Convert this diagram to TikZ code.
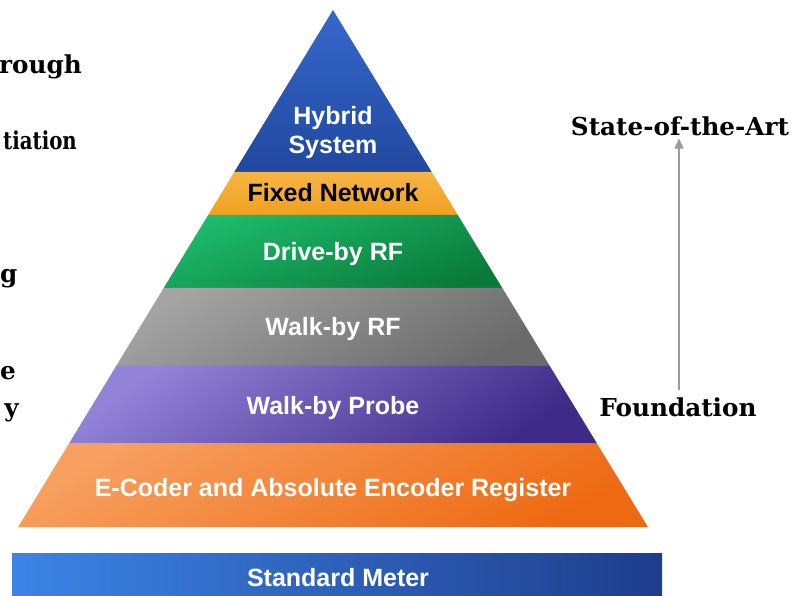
\documentclass[tikz,border=0pt]{standalone}
\usepackage{fontspec}
\setmainfont{DejaVu Serif}
\newfontfamily\lsans{Liberation Sans}
\usetikzlibrary{arrows.meta}
\definecolor{hybTop}{HTML}{3568CC}
\definecolor{hybBot}{HTML}{21489F}
\definecolor{fixTop}{HTML}{F7B545}
\definecolor{fixBot}{HTML}{F0A020}
\definecolor{grnTop}{HTML}{1DBB6C}
\definecolor{grnBot}{HTML}{0A7A3A}
\definecolor{gryTop}{HTML}{A4A4A4}
\definecolor{gryBot}{HTML}{6A6A6A}
\definecolor{purTop}{HTML}{9282D8}
\definecolor{purBot}{HTML}{3E2B88}
\definecolor{orgTop}{HTML}{F7A060}
\definecolor{orgBot}{HTML}{EE6A12}
\definecolor{stdL}{HTML}{3C84E6}
\definecolor{stdR}{HTML}{1E3D8C}
\definecolor{arrowgray}{HTML}{9A9A9A}
\tikzset{
  sidetext/.style={font=\fontsize{24.7}{28}\selectfont\bfseries, inner sep=0pt, anchor=base},
  fragtext/.style={sidetext, anchor=base east},
  bandtext/.style={font=\lsans\bfseries\fontsize{25}{29}\selectfont, text=white, inner sep=0pt, anchor=base},
  band/.style={draw=none},
  uparrow/.style={arrowgray, line width=1.3pt, -{Triangle[length=10pt,width=9pt]}, shorten <=8pt, shorten >=2pt}
}
\begin{document}
\begin{tikzpicture}[x=1pt,y=-1pt]
\useasboundingbox (0,0) rectangle (796,596);
\clip (0,0) rectangle (796,596);
\fill[white] (0,0) rectangle (796,596);

% pyramid bands
\shade[band, top color=hybTop, bottom color=hybBot] (333,10) -- (431.7,172) -- (234.3,172) -- cycle;
\shade[band, top color=fixTop, bottom color=fixBot] (234.3,172) -- (431.7,172) -- (457.8,215) -- (208.2,215) -- cycle;
\shade[band, top color=grnTop, bottom color=grnBot, shading angle=20] (208.2,215) -- (457.8,215) -- (502.3,288) -- (163.7,288) -- cycle;
\shade[band, top color=gryTop, bottom color=gryBot, shading angle=30] (163.7,288) -- (502.3,288) -- (549.8,366) -- (116.2,366) -- cycle;
\shade[band, top color=purTop, bottom color=purBot, shading angle=35] (116.2,366) -- (549.8,366) -- (596.7,443) -- (69.3,443) -- cycle;
\shade[band, top color=orgTop, bottom color=orgBot, shading angle=30] (69.3,443) -- (596.7,443) -- (647.9,527) -- (18.1,527) -- cycle;
\shade[band, left color=stdL, right color=stdR] (12,553) rectangle (662,600);

% band labels
\node[bandtext, anchor=center, align=center] (hybrid) at (333,133) {Hybrid\\System};
\node[bandtext, text=black] (fixed) at (333,202) {Fixed Network};
\node[bandtext] (drive) at (333,261) {Drive-by RF};
\node[bandtext] (walkrf) at (333,336) {Walk-by RF};
\node[bandtext] (probe) at (333,414) {Walk-by Probe};
\node[bandtext] (ecoder) at (333,496) {E-Coder and Absolute Encoder Register};
\node[bandtext] (stdm) at (338,586) {Standard Meter};

% right side
\node[sidetext] (sota) at (680,136) {State-of-the-Art};
\node[sidetext] (found) at (678,417) {Foundation};
\draw[uparrow] ([xshift=1pt]found.north) -- ([xshift=1pt]found.north |- sota.south);

% left fragments
\node[fragtext] (f1) at (82,74) {rough};
\node[fragtext] (f2) at (77,150) {\scalebox{0.8}[1]{tiation}};
\node[sidetext, anchor=base west] (f3) at (0,283) {g};
\node[sidetext, anchor=base west] (f4) at (0,380) {e};
\node[fragtext] (f5) at (19,417) {y};
\end{tikzpicture}
\end{document}
